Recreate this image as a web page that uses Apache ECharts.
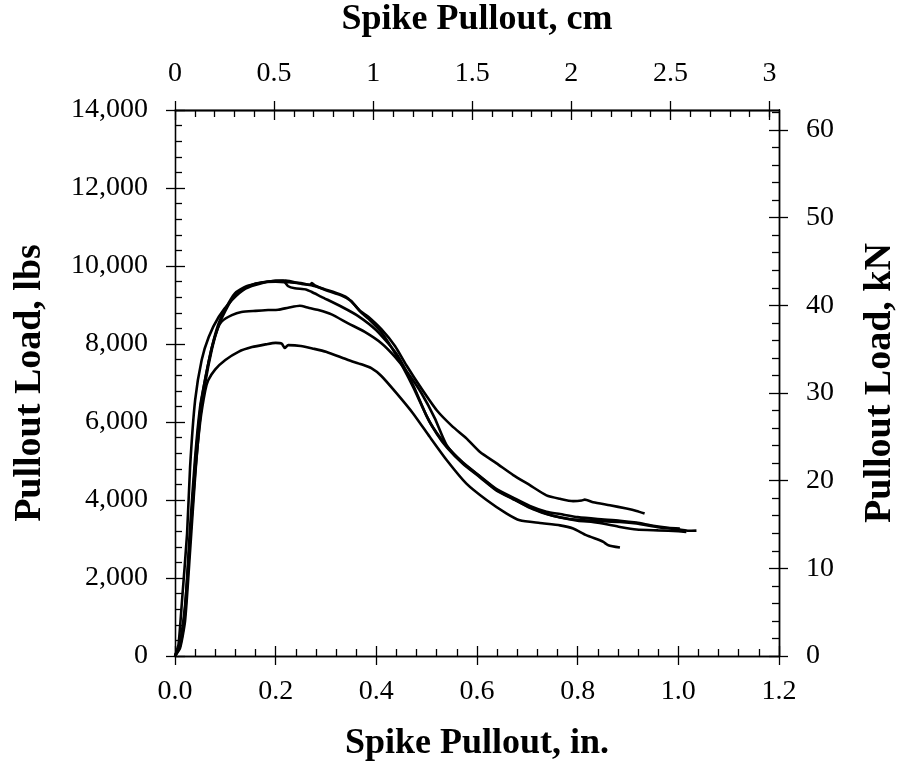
<!DOCTYPE html>
<html>
<head>
<meta charset="utf-8">
<script src="https://cdn.jsdelivr.net/npm/echarts@6/dist/echarts.min.js"></script>
<style>html,body{margin:0;padding:0;background:#fff}#c{width:898px;height:761px}</style>
</head>
<body>
<div id="c"></div>
<script>
// ---- Data: [pullout (in.), load (lbs)] ----
const specimenA = [[0,0],[0.01,350],[0.02,1300],[0.03,3000],[0.04,4700],[0.05,6000],[0.06,6800],[0.066,7070],[0.08,7350],[0.1,7590],[0.126,7800],[0.153,7920],[0.18,7990],[0.2,8030],[0.212,8010],[0.218,7900],[0.225,7970],[0.25,7950],[0.275,7880],[0.3,7800],[0.344,7590],[0.37,7480],[0.39,7380],[0.41,7180],[0.44,6740],[0.473,6220],[0.506,5620],[0.54,5020],[0.579,4420],[0.619,4000],[0.659,3650],[0.685,3480],[0.725,3410],[0.765,3350],[0.791,3270],[0.817,3100],[0.844,2970],[0.851,2925],[0.861,2840],[0.884,2780]];
const specimenB = [[0,0],[0.01,300],[0.02,1200],[0.03,3300],[0.04,5100],[0.05,6400],[0.06,7100],[0.073,7900],[0.085,8400],[0.093,8580],[0.113,8740],[0.132,8820],[0.16,8850],[0.185,8870],[0.205,8880],[0.225,8930],[0.248,8980],[0.265,8930],[0.285,8870],[0.311,8760],[0.344,8530],[0.377,8310],[0.41,8020],[0.437,7670],[0.463,7250],[0.49,6730],[0.516,6100],[0.54,5400],[0.572,4960],[0.606,4610],[0.639,4280],[0.672,4060],[0.705,3850],[0.738,3700],[0.765,3640],[0.8,3560],[0.84,3510],[0.884,3470],[0.917,3420],[0.95,3340],[0.98,3290],[1.003,3268]];
const specimenC = [[0,0],[0.01,250],[0.02,1100],[0.03,3000],[0.04,4900],[0.05,6300],[0.06,7100],[0.073,7900],[0.086,8500],[0.1,8900],[0.119,9300],[0.142,9480],[0.172,9570],[0.2,9620],[0.215,9620],[0.225,9480],[0.238,9430],[0.26,9400],[0.271,9340],[0.291,9210],[0.331,8955],[0.364,8716],[0.4,8350],[0.44,7750],[0.473,6950],[0.5,6150],[0.52,5700],[0.54,5350],[0.572,4930],[0.606,4580],[0.639,4240],[0.672,4020],[0.705,3810],[0.738,3650],[0.765,3560],[0.8,3490],[0.844,3460],[0.884,3438],[0.917,3396],[0.963,3294],[1.003,3243],[1.02,3210],[1.036,3216]];
const specimenD = [[0,0],[0.01,200],[0.02,900],[0.03,2700],[0.04,4600],[0.05,6100],[0.06,7000],[0.073,7850],[0.086,8450],[0.1,8850],[0.119,9250],[0.142,9450],[0.16,9550],[0.18,9590],[0.2,9600],[0.23,9580],[0.25,9560],[0.268,9520],[0.272,9560],[0.278,9500],[0.3,9380],[0.331,9240],[0.35,9100],[0.368,8830],[0.384,8650],[0.41,8300],[0.44,7700],[0.473,6900],[0.506,6000],[0.54,5380],[0.572,4950],[0.606,4600],[0.639,4260],[0.672,4030],[0.705,3800],[0.738,3640],[0.765,3550],[0.8,3470],[0.84,3420],[0.884,3310],[0.917,3243],[0.96,3220],[1.0,3200],[1.016,3181]];
const specimenE = [[0,0],[0.007,300],[0.014,1430],[0.024,3140],[0.03,4850],[0.04,6560],[0.053,7590],[0.067,8180],[0.087,8700],[0.113,9125],[0.14,9420],[0.172,9560],[0.2,9620],[0.22,9630],[0.252,9540],[0.271,9510],[0.298,9400],[0.331,9260],[0.344,9170],[0.368,8850],[0.384,8700],[0.41,8380],[0.437,7950],[0.46,7450],[0.49,6850],[0.52,6300],[0.55,5900],[0.579,5580],[0.606,5230],[0.639,4940],[0.672,4640],[0.705,4380],[0.738,4120],[0.765,4030],[0.791,3970],[0.808,3985],[0.814,4010],[0.831,3945],[0.864,3866],[0.897,3781],[0.917,3720],[0.933,3653]];

// ---- Axes / tick labels ----
const inMax = 1.2;
const lbsMax = 14000;
const cmMax = inMax * 2.54;
const cmTicks = [0,0.5,1,1.5,2,2.5,3];
const cmMinor = [0.1,0.2,0.3,0.4,0.6,0.7,0.8,0.9,1.1,1.2,1.3,1.4,1.6,1.7,1.8,1.9,2.1,2.2,2.3,2.4,2.6,2.7,2.8,2.9,3.0];
const kNMax = lbsMax * 0.00444822;
const kNTicks = [0,10,20,30,40,50,60];
const kNMinor = [2,4,6,8,12,14,16,18,22,24,26,28,32,34,36,38,42,44,46,48,52,54,56,58,62];

const FONT = 'Liberation Serif';
const lineCol = '#000';
const axLine = {show:true, onZero:false, lineStyle:{color:lineCol, width:1.3}};
const tickLS = {color:lineCol, width:1.3};
const lbl = (extra) => Object.assign({color:'#000', fontFamily:FONT, fontSize:28}, extra);
const nameStyleH = {color:'#000', fontFamily:FONT, fontSize:36, fontWeight:'bold'};
const nameStyleV = {color:'#000', fontFamily:FONT, fontSize:38, fontWeight:'bold'};

const chart = echarts.init(document.getElementById('c'), null, {renderer:'canvas'});

const series = [specimenA, specimenB, specimenC, specimenD, specimenE].map((d, i) => ({
  type:'line', name:'S'+(i+1), data:d, xAxisIndex:0, yAxisIndex:0,
  showSymbol:false, symbol:'none', smooth:0.2,
  lineStyle:{color:'#000', width:2.6}, animation:false
}));

const base = {type:'value', axisLine:axLine, splitLine:{show:false}};

chart.setOption({
  animation:false,
  backgroundColor:'#fff',
  grid:{left:175, right:119, top:110, bottom:105, containLabel:false, outerBoundsMode:'none'},
  xAxis:[
    Object.assign({}, base, {position:'bottom', min:0, max:inMax, interval:0.2,
     axisTick:{show:true, inside:true, length:10, lineStyle:tickLS},
     minorTick:{show:true, splitNumber:5, length:7, lineStyle:tickLS},
     axisLabel:lbl({margin:22, formatter:v=>v.toFixed(1)}),
     name:'Spike Pullout, in.', nameLocation:'middle', nameGap:70, nameTextStyle:nameStyleH}),
    Object.assign({}, base, {position:'bottom', min:0, max:inMax, interval:0.2,
     axisTick:{show:true, inside:false, length:9, lineStyle:tickLS},
     axisLabel:{show:false}}),
    Object.assign({}, base, {position:'top', min:0, max:cmMax,
     axisTick:{show:true, inside:true, length:10, customValues:cmTicks, lineStyle:tickLS},
     axisLabel:lbl({margin:22, customValues:cmTicks}),
     name:'Spike Pullout, cm', nameLocation:'middle', nameGap:72, nameTextStyle:nameStyleH}),
    Object.assign({}, base, {position:'top', min:0, max:cmMax,
     axisTick:{show:true, inside:false, length:9, customValues:cmTicks, lineStyle:tickLS},
     axisLabel:{show:false}}),
    Object.assign({}, base, {position:'top', min:0, max:cmMax,
     axisTick:{show:true, inside:true, length:7, customValues:cmMinor, lineStyle:tickLS},
     axisLabel:{show:false}})
  ],
  yAxis:[
    Object.assign({}, base, {position:'left', min:0, max:lbsMax, interval:2000,
     axisTick:{show:true, inside:true, length:10, lineStyle:tickLS},
     minorTick:{show:true, splitNumber:5, length:7, lineStyle:tickLS},
     axisLabel:lbl({margin:27, formatter:v=>v.toLocaleString('en-US')}),
     name:'Pullout Load, lbs', nameLocation:'middle', nameGap:126, nameRotate:90, nameTextStyle:nameStyleV}),
    Object.assign({}, base, {position:'left', min:0, max:lbsMax, interval:2000,
     axisTick:{show:true, inside:false, length:9, lineStyle:tickLS},
     axisLabel:{show:false}}),
    Object.assign({}, base, {position:'right', min:0, max:kNMax,
     axisTick:{show:true, inside:true, length:10, customValues:kNTicks, lineStyle:tickLS},
     axisLabel:lbl({margin:27, customValues:kNTicks}),
     name:'Pullout Load, kN', nameLocation:'middle', nameGap:82, nameRotate:90, nameTextStyle:nameStyleV}),
    Object.assign({}, base, {position:'right', min:0, max:kNMax,
     axisTick:{show:true, inside:false, length:9, customValues:kNTicks, lineStyle:tickLS},
     axisLabel:{show:false}}),
    Object.assign({}, base, {position:'right', min:0, max:kNMax,
     axisTick:{show:true, inside:true, length:7, customValues:kNMinor, lineStyle:tickLS},
     axisLabel:{show:false}})
  ],
  series: series
});
</script>
</body>
</html>
